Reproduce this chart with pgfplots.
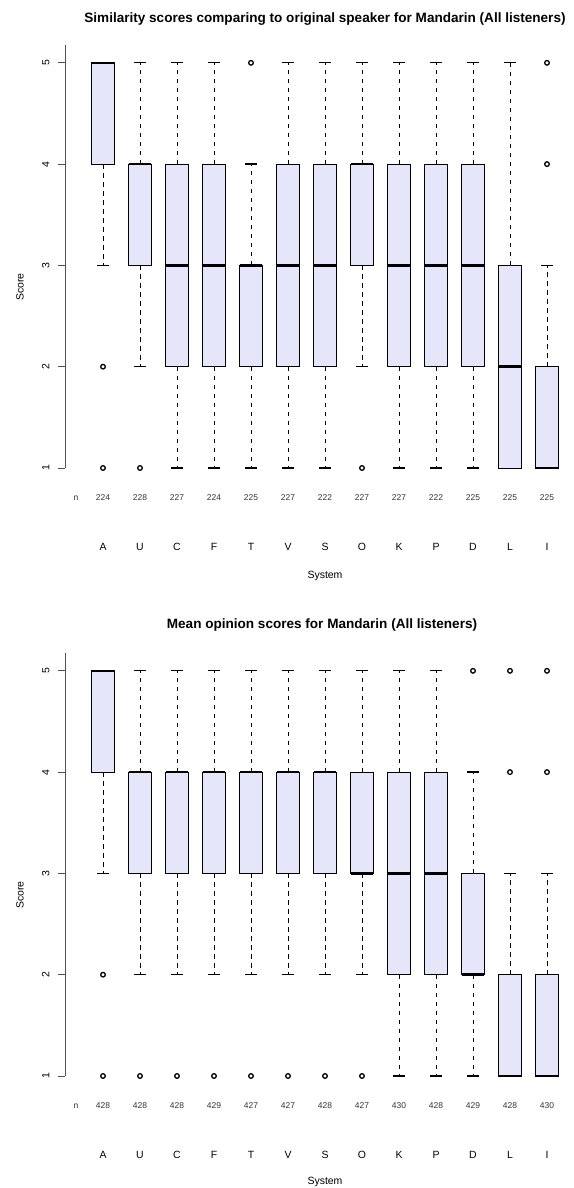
\documentclass[border=0pt]{standalone}
\usepackage{pgfplots}
\pgfplotsset{compat=1.18}
\usepgfplotslibrary{statistics}
\usepackage{fontspec}
\setmainfont{Liberation Sans}
\definecolor{lav}{RGB}{230,230,250}
\definecolor{axgray}{RGB}{80,80,80}

\pgfplotsset{
  rbox/.style={
    boxplot/draw direction=y,
    boxplot/box extend=0.6,
    boxplot/whisker extend=0.3,
    boxplot/every box/.style={draw=black, fill=lav, line width=0.8bp},
    boxplot/every median/.style={draw=black, line width=2.6bp},
    boxplot/draw/lower whisker/.code={%
      \draw[black, line width=0.7bp, dash pattern=on 4.5bp off 4.5bp]
        (boxplot box cs:\pgfplotsboxplotvalue{lower quartile},0.5) --
        (boxplot box cs:\pgfplotsboxplotvalue{lower whisker},0.5);
      \draw[black, line width=1.3bp]
        (boxplot whisker cs:\pgfplotsboxplotvalue{lower whisker},0) --
        (boxplot whisker cs:\pgfplotsboxplotvalue{lower whisker},1);
    },
    boxplot/draw/upper whisker/.code={%
      \draw[black, line width=0.7bp, dash pattern=on 4.5bp off 4.5bp]
        (boxplot box cs:\pgfplotsboxplotvalue{upper quartile},0.5) --
        (boxplot box cs:\pgfplotsboxplotvalue{upper whisker},0.5);
      \draw[black, line width=1.3bp]
        (boxplot whisker cs:\pgfplotsboxplotvalue{upper whisker},0) --
        (boxplot whisker cs:\pgfplotsboxplotvalue{upper whisker},1);
    },
    draw=black, solid,
    mark=o, mark size=2.3bp,
    mark options={solid, draw=black, line width=1.3bp},
  },
  rax/.style={
    scale only axis, width=509bp, height=439.1bp,
    xmin=-0.027, xmax=13.73, ymin=0.84, ymax=5.175,
    axis line style={draw=none},
    ytick={1,2,3,4,5}, yticklabels={1,2,3,4,5},
    ytick pos=left, xtick pos=bottom,
    tick align=outside,
    major tick length=7bp,
    major tick style={axgray, line width=0.8bp},
    major x tick style={draw=none},
    yticklabel style={rotate=90, anchor=south, font=\fontsize{10.5}{12}\selectfont, yshift=5bp},
    xtick={1,...,13},
    xticklabels={A,U,C,F,T,V,S,O,K,P,D,L,I},
    xticklabel style={anchor=base, font=\fontsize{10.5}{12}\selectfont, yshift=-59bp},
    clip=false,
  }
}
\newcommand{\rb}[7]{\addplot[rbox, boxplot prepared={draw position=#1, lower whisker=#2, lower quartile=#3, median=#4, upper quartile=#5, upper whisker=#6}] coordinates {#7};}
\newcommand{\nn}[2]{\node[font=\fontsize{8.5}{10}\selectfont, text=black!80] at (axis cs:#1,1) [yshift=-30bp] {#2};}

\begin{document}
\begin{tikzpicture}
\useasboundingbox (0,0) rectangle (574bp,1188bp);

% ---------- Top chart ----------
\node[font=\bfseries\fontsize{13.6}{16}\selectfont] at (325bp,1169bp) {Similarity scores comparing to original speaker for Mandarin (All listeners)};
\node[rotate=90, font=\fontsize{10.5}{12}\selectfont] at (20bp,901bp) {Score};
\node[font=\fontsize{10.5}{12}\selectfont] at (325bp,612bp) {System};
\begin{axis}[rax, at={(65bp,703.8bp)}, anchor=south west]
\draw[axgray, line width=0.8bp] (axis cs:-0.027,1) -- (axis cs:-0.027,5.175);
% pos, lw, lq, med, uq, uw, outliers
\rb{1}{3}{4}{5}{5}{5}{(1,2) (1,1)}
\rb{2}{2}{3}{4}{4}{5}{(2,1)}
\rb{3}{1}{2}{3}{4}{5}{}
\rb{4}{1}{2}{3}{4}{5}{}
\rb{5}{1}{2}{3}{3}{4}{(5,5)}
\rb{6}{1}{2}{3}{4}{5}{}
\rb{7}{1}{2}{3}{4}{5}{}
\rb{8}{2}{3}{4}{4}{5}{(8,1)}
\rb{9}{1}{2}{3}{4}{5}{}
\rb{10}{1}{2}{3}{4}{5}{}
\rb{11}{1}{2}{3}{4}{5}{}
\rb{12}{1}{1}{2}{3}{5}{}
\rb{13}{1}{1}{1}{2}{3}{(13,4) (13,5)}
\nn{0.27}{n}
\nn{1}{224}\nn{2}{228}\nn{3}{227}\nn{4}{224}\nn{5}{225}\nn{6}{227}\nn{7}{222}
\nn{8}{227}\nn{9}{227}\nn{10}{222}\nn{11}{225}\nn{12}{225}\nn{13}{225}
\end{axis}

% ---------- Bottom chart ----------
\node[font=\bfseries\fontsize{13.6}{16}\selectfont] at (322bp,563bp) {Mean opinion scores for Mandarin (All listeners)};
\node[rotate=90, font=\fontsize{10.5}{12}\selectfont] at (20bp,293bp) {Score};
\node[font=\fontsize{10.5}{12}\selectfont] at (325bp,6bp) {System};
\begin{axis}[rax, at={(65bp,95.8bp)}, anchor=south west]
\draw[axgray, line width=0.8bp] (axis cs:-0.027,1) -- (axis cs:-0.027,5.175);
\rb{1}{3}{4}{5}{5}{5}{(1,2) (1,1)}
\rb{2}{2}{3}{4}{4}{5}{(2,1)}
\rb{3}{2}{3}{4}{4}{5}{(3,1)}
\rb{4}{2}{3}{4}{4}{5}{(4,1)}
\rb{5}{2}{3}{4}{4}{5}{(5,1)}
\rb{6}{2}{3}{4}{4}{5}{(6,1)}
\rb{7}{2}{3}{4}{4}{5}{(7,1)}
\rb{8}{2}{3}{3}{4}{5}{(8,1)}
\rb{9}{1}{2}{3}{4}{5}{}
\rb{10}{1}{2}{3}{4}{5}{}
\rb{11}{1}{2}{2}{3}{4}{(11,5)}
\rb{12}{1}{1}{1}{2}{3}{(12,4) (12,5)}
\rb{13}{1}{1}{1}{2}{3}{(13,4) (13,5)}
\nn{0.27}{n}
\nn{1}{428}\nn{2}{428}\nn{3}{428}\nn{4}{429}\nn{5}{427}\nn{6}{427}\nn{7}{428}
\nn{8}{427}\nn{9}{430}\nn{10}{428}\nn{11}{429}\nn{12}{428}\nn{13}{430}
\end{axis}
\end{tikzpicture}
\end{document}
